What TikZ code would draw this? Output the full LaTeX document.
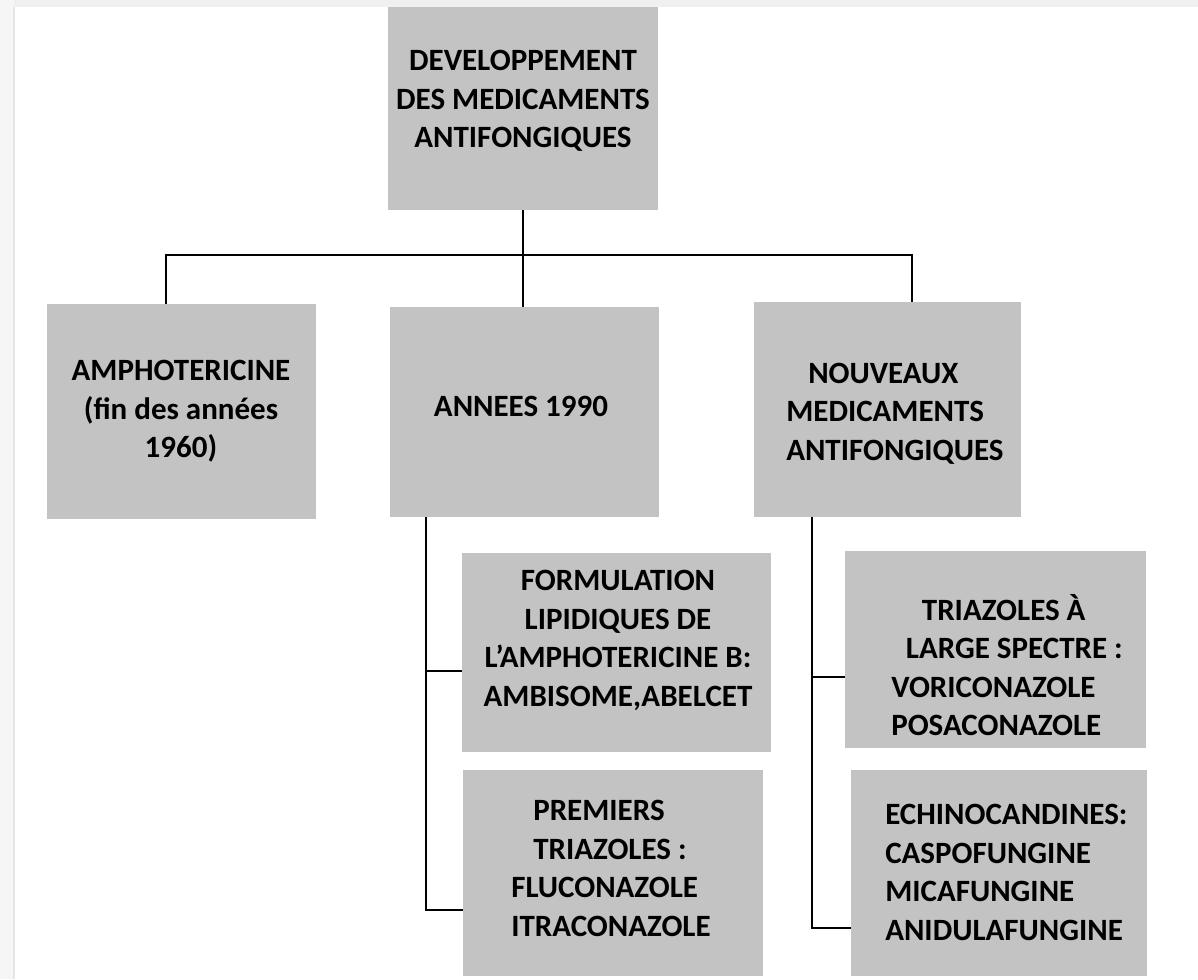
\documentclass[tikz,border=0pt]{standalone}
\usepackage{fontspec}
\setmainfont{Carlito}
\usetikzlibrary{fit}
\definecolor{boxgray}{RGB}{195,195,195}
\definecolor{edgegray}{RGB}{240,240,240}
\begin{document}
\begin{tikzpicture}[x=0.75pt,y=-0.75pt,
  box/.style={fill=boxgray, draw=none, inner sep=0pt},
  lbl/.style={font=\bfseries\fontsize{23.25}{28.9}\selectfont, inner sep=0pt, text=black},
  conn/.style={draw=black, line width=1.2pt}]
\useasboundingbox (0,0) rectangle (1198,979);
\fill[white] (0,0) rectangle (1198,979);
\fill[edgegray] (0,0) rectangle (1198,7);
\fill[edgegray!60] (0,0) rectangle (14,979);
\draw[gray!20, line width=1.5pt] (14,7) -- (14,979);
% boxes
\node[box, fit={(388,7) (658,210)}] (top) {};
\node[box, fit={(47,304) (316,519)}] (amph) {};
\node[box, fit={(390,307) (659,517)}] (annees) {};
\node[box, fit={(754,302) (1021,517)}] (nouv) {};
\node[box, fit={(462,553) (771,752)}] (form) {};
\node[box, fit={(463,770) (763,976)}] (prem) {};
\node[box, fit={(845,551) (1146,748)}] (tri) {};
\node[box, fit={(851,770) (1147,976)}] (echi) {};
% texts
\node[lbl, align=center] (ttop) at (523,101) {DEVELOPPEMENT\\DES MEDICAMENTS\\ANTIFONGIQUES};
\node[lbl, align=center] (tamph) at (181,411.5) {AMPHOTERICINE\\(fin des années\\1960)};
\node[lbl, align=center] (tannees) at (521,406) {ANNEES 1990};
\node[lbl, align=left, anchor=west] (tnouv) at (786,413.5) {\hspace*{16.5pt}NOUVEAUX\\MEDICAMENTS\\ANTIFONGIQUES};
\node[lbl, align=center] (tform) at (618,640.5) {FORMULATION\\LIPIDIQUES DE\\L\symbol{39}AMPHOTERICINE B:\\AMBISOME,ABELCET};
\node[lbl, align=left, anchor=west] (tprem) at (511,868.5) {\hspace*{16.5pt}PREMIERS\\\hspace*{16.5pt}TRIAZOLES :\\FLUCONAZOLE\\ITRACONAZOLE};
\node[lbl, align=left, anchor=west] (ttri) at (891,665) {\hspace*{23pt}TRIAZOLES À\\\hspace*{11pt}LARGE SPECTRE :\\VORICONAZOLE\\POSACONAZOLE};
\node[lbl, align=left, anchor=west] (techi) at (885,872.5) {ECHINOCANDINES:\\CASPOFUNGINE\\MICAFUNGINE\\ANIDULAFUNGINE};
% connectors
\coordinate (hl) at (166,255);
\coordinate (hr) at (912,255);
\coordinate (hc) at (523,255);
\draw[conn] (top.south -| hc) -- (annees.north -| hc);
\draw[conn] (amph.north -| hl) -- (hl) -- (hr) -- (nouv.north -| hr);
\coordinate (a1) at (426,671);
\coordinate (a2) at (426,910);
\draw[conn] (annees.south -| a1) -- (a2) -- (a2 -| prem.west);
\draw[conn] (a1) -- (a1 -| form.west);
\coordinate (n1) at (812,677);
\coordinate (n2) at (812,928);
\draw[conn] (nouv.south -| n1) -- (n2) -- (n2 -| echi.west);
\draw[conn] (n1) -- (n1 -| tri.west);
\end{tikzpicture}
\end{document}
